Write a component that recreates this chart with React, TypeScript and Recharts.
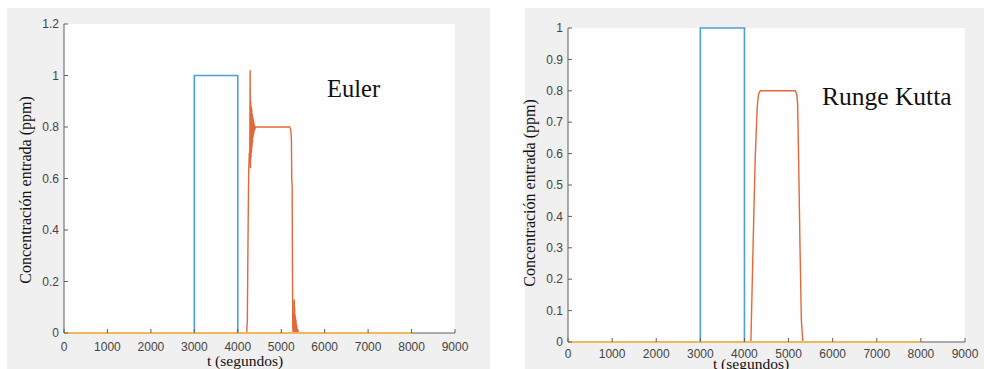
import { LineChart, Line, XAxis, YAxis, CartesianGrid } from 'recharts';

// ── data (t in segundos, concentración en ppm) ──────────────────────
const T_TICKS = [0, 1000, 2000, 3000, 4000, 5000, 6000, 7000, 8000, 9000];
const EULER_Y_TICKS = [0, 0.2, 0.4, 0.6, 0.8, 1, 1.2];
const RK_Y_TICKS = [0, 0.1, 0.2, 0.3, 0.4, 0.5, 0.6, 0.7, 0.8, 0.9, 1];

const entradaPulso = [
  { t: 0, c: 0 },
  { t: 3000, c: 0 },
  { t: 3000, c: 1 },
  { t: 4000, c: 1 },
  { t: 4000, c: 0 },
  { t: 8000, c: 0 },
];

const salidaEuler = [
  { t: 0, c: 0 },
  { t: 4205, c: 0 },
  { t: 4220, c: 0.05 },
  { t: 4235, c: 0.35 },
  { t: 4250, c: 0.62 },
  { t: 4265, c: 0.7 },
  { t: 4275, c: 0.66 },
  { t: 4285, c: 1.02 },
  { t: 4292, c: 0.64 },
  { t: 4298, c: 0.9 },
  { t: 4304, c: 0.68 },
  { t: 4310, c: 0.88 },
  { t: 4316, c: 0.7 },
  { t: 4322, c: 0.87 },
  { t: 4328, c: 0.72 },
  { t: 4334, c: 0.85 },
  { t: 4340, c: 0.74 },
  { t: 4346, c: 0.84 },
  { t: 4352, c: 0.76 },
  { t: 4358, c: 0.83 },
  { t: 4364, c: 0.77 },
  { t: 4370, c: 0.82 },
  { t: 4376, c: 0.78 },
  { t: 4384, c: 0.81 },
  { t: 4392, c: 0.79 },
  { t: 4405, c: 0.8 },
  { t: 5195, c: 0.8 },
  { t: 5220, c: 0.79 },
  { t: 5235, c: 0.75 },
  { t: 5242, c: 0.6 },
  { t: 5252, c: 0.57 },
  { t: 5260, c: 0.2 },
  { t: 5266, c: 0.02 },
  { t: 5274, c: 0 },
  { t: 5284, c: 0.03 },
  { t: 5292, c: 0 },
  { t: 5300, c: 0.13 },
  { t: 5305, c: 0 },
  { t: 5310, c: 0.1 },
  { t: 5315, c: 0 },
  { t: 5320, c: 0.07 },
  { t: 5325, c: 0 },
  { t: 5330, c: 0.06 },
  { t: 5335, c: 0 },
  { t: 5340, c: 0.05 },
  { t: 5345, c: 0 },
  { t: 5350, c: 0.035 },
  { t: 5356, c: 0 },
  { t: 5362, c: 0.025 },
  { t: 5370, c: 0 },
  { t: 5380, c: 0.015 },
  { t: 5392, c: 0 },
  { t: 8000, c: 0 },
];

const salidaRK = [
  { t: 0, c: 0 },
  { t: 4146, c: 0 },
  { t: 4200, c: 0.33 },
  { t: 4243, c: 0.58 },
  { t: 4290, c: 0.75 },
  { t: 4320, c: 0.79 },
  { t: 4360, c: 0.8 },
  { t: 5150, c: 0.8 },
  { t: 5185, c: 0.79 },
  { t: 5205, c: 0.76 },
  { t: 5226, c: 0.6 },
  { t: 5260, c: 0.3 },
  { t: 5290, c: 0.07 },
  { t: 5325, c: 0 },
  { t: 8000, c: 0 },
];

const referencia = [
  { t: 0, c: 0 },
  { t: 8000, c: 0 },
];

// ── styles ──────────────────────────────────────────────────────────
const AXIS = '#5f5f5f';
const TICK_FONT = { fontSize: 12, fill: '#444', fontFamily: '"Liberation Sans", Arial, sans-serif' };
const SERIF = '"Liberation Serif", "Times New Roman", serif';
const BLUE = '#4c9fd8';
const ORANGE = '#e0693a';
const YELLOW = '#efb85c';

interface PanelProps {
  width: number;
  height: number;
  margin: { top: number; right: number; bottom: number; left: number };
  yAxisWidth: number;
  xAxisHeight: number;
  yMax: number;
  yTicks: number[];
  salida: Array<{ t: number; c: number }>;
  xTickMargin: number;
}

function Panel({ width, height, margin, yAxisWidth, xAxisHeight, yMax, yTicks, salida, xTickMargin }: PanelProps) {
  return (
    <LineChart width={width} height={height} margin={margin}>
      {/* white plot area + bottom box edge (drawn under the series so the yellow trace covers it) */}
      <CartesianGrid vertical={false} horizontalValues={[0]} fill="#fefefe" stroke={AXIS} strokeWidth={1} />
      <XAxis
        type="number"
        dataKey="t"
        domain={[0, 9000]}
        ticks={T_TICKS}
        interval={0}
        height={xAxisHeight}
        tickSize={-4}
        tickMargin={xTickMargin}
        tick={TICK_FONT}
        stroke={AXIS}
        axisLine={false}
      />
      <XAxis
        xAxisId="top"
        orientation="top"
        type="number"
        dataKey="t"
        domain={[0, 9000]}
        ticks={T_TICKS}
        interval={0}
        height={0}
        tickSize={-4}
        tick={false}
        stroke={AXIS}
      />
      <YAxis
        type="number"
        domain={[0, yMax]}
        ticks={yTicks}
        interval={0}
        width={yAxisWidth}
        tickSize={-4}
        tickMargin={9}
        tick={TICK_FONT}
        stroke={AXIS}
      />
      <YAxis
        yAxisId="right"
        orientation="right"
        type="number"
        domain={[0, yMax]}
        ticks={yTicks}
        interval={0}
        width={0}
        tickSize={-4}
        tick={false}
        stroke={AXIS}
      />
      <Line data={entradaPulso} dataKey="c" type="linear" stroke={BLUE} strokeWidth={1.6} dot={false} isAnimationActive={false} />
      <Line data={salida} dataKey="c" type="linear" stroke={ORANGE} strokeWidth={1.4} dot={false} isAnimationActive={false} />
      <Line data={referencia} dataKey="c" type="linear" stroke={YELLOW} strokeWidth={1.8} dot={false} isAnimationActive={false} />
    </LineChart>
  );
}

export default function App() {
  return (
    <div style={{ position: 'absolute', left: 0, top: 0, width: 984, height: 369, background: '#fff', overflow: 'hidden' }}>
      <div style={{ position: 'absolute', left: 7, top: 8, width: 483, height: 361, background: '#f0f0f0' }} />
      <div style={{ position: 'absolute', left: 525, top: 8, width: 459, height: 361, background: '#f0f0f0' }} />

      <div style={{ position: 'absolute', left: 0, top: 0 }}>
        <Panel
          width={490}
          height={369}
          margin={{ top: 24, right: 35, bottom: 0, left: 0 }}
          yAxisWidth={64}
          xAxisHeight={36}
          yMax={1.2}
          yTicks={EULER_Y_TICKS}
          salida={salidaEuler}
          xTickMargin={13}
        />
      </div>
      <div style={{ position: 'absolute', left: 494, top: 0 }}>
        <Panel
          width={490}
          height={369}
          margin={{ top: 28, right: 19, bottom: 0, left: 0 }}
          yAxisWidth={74}
          xAxisHeight={27}
          yMax={1}
          yTicks={RK_Y_TICKS}
          salida={salidaRK}
          xTickMargin={11}
        />
      </div>

      {/* titles and axis labels */}
      <svg width={984} height={369} style={{ position: 'absolute', left: 0, top: 0, pointerEvents: 'none' }}>
        <text x={327} y={97} fontFamily={SERIF} fontSize={24.5} fill="#111">Euler</text>
        <text x={822} y={105} fontFamily={SERIF} fontSize={25.5} fill="#111">Runge Kutta</text>
        <text transform="translate(31,190) rotate(-90)" textAnchor="middle" fontFamily={SERIF} fontSize={16} fill="#111">
          Concentración entrada (ppm)
        </text>
        <text transform="translate(535,193) rotate(-90)" textAnchor="middle" fontFamily={SERIF} fontSize={16} fill="#111">
          Concentración entrada (ppm)
        </text>
        <text x={245} y={366} textAnchor="middle" fontFamily={SERIF} fontSize={15.5} fill="#111">t (segundos)</text>
        <text x={751} y={369} textAnchor="middle" fontFamily={SERIF} fontSize={15.5} fill="#111">t (segundos)</text>
      </svg>
    </div>
  );
}
